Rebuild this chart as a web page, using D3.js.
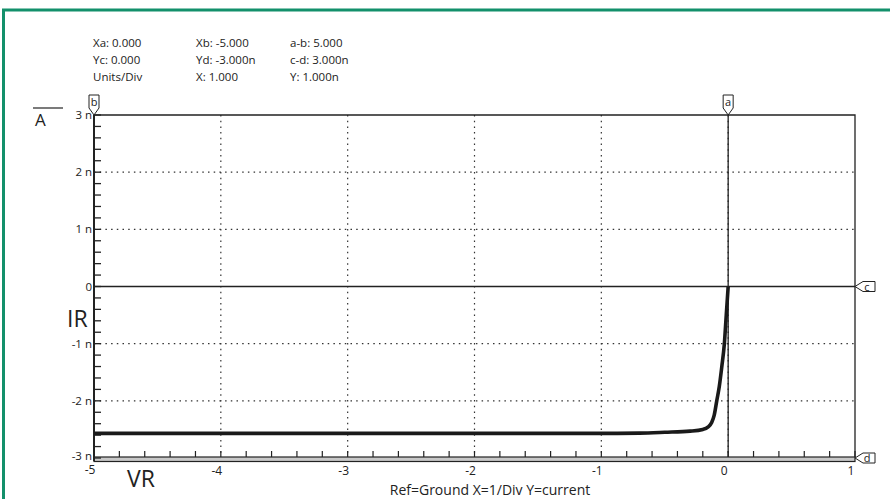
<!DOCTYPE html>
<html>
<head>
<meta charset="utf-8">
<script src="https://cdn.jsdelivr.net/npm/d3@7"></script>
<style>
  body { margin: 0; background: #fff; }
  svg { display: block; font-family: "Open Sans", "Noto Sans", sans-serif; }
</style>
</head>
<body>
<svg id="canvas"></svg>
<script>
var w = 890;
var h = 499;

// readout block at the top
var readCol1 = ['Xa: 0.000', 'Yc: 0.000', 'Units/Div'];
var readCol2 = ['Xb: -5.000', 'Yd: -3.000n', 'X: 1.000'];
var readCol3 = ['a-b: 5.000', 'c-d: 3.000n', 'Y: 1.000n'];

var xTicks = [-5, -4, -3, -2, -1, 0, 1];
var yTicks = [3, 2, 1, 0, -1, -2, -3];
var yTickLabels = ['3 n', '2 n', '1 n', '0', '-1 n', '-2 n', '-3 n'];

// reverse current curve (VR in V, IR in nA)
var vr = [-5, -4, -3, -2, -1, -0.7, -0.5, -0.3, -0.2, -0.16, -0.13, -0.11, -0.09, -0.07, -0.05, -0.03, -0.015, 0];
var ir = [-2.57, -2.57, -2.57, -2.57, -2.57, -2.565, -2.55, -2.53, -2.5, -2.46, -2.38, -2.25, -2.0, -1.75, -1.4, -1.0, -0.5, 0];

// cursors
var cursorA = 0, cursorB = -5, cursorC = 0, cursorD = -3;

var x = d3.scaleLinear().domain([-5, 1]).range([94, 855]);
var y = d3.scaleLinear().domain([-3, 3]).range([458, 115]);

var svg = d3.select('#canvas')
  .attr('width', w)
  .attr('height', h)
  .attr('viewBox', [0, 0, w, h]);

// green frame (only top and left show)
svg.append('path')
  .attr('d', 'M3.5,' + h + ' V10 H' + w)
  .attr('fill', 'none')
  .attr('stroke', '#13906b')
  .attr('stroke-width', 3);

// readouts
[[readCol1, 93], [readCol2, 196], [readCol3, 290]].forEach(function(c){
  svg.append('g').selectAll('text')
    .data(c[0])
    .enter()
    .append('text')
    .attr('x', c[1])
    .attr('y', (d, i) => 47 + i * 17)
    .attr('font-size', 11.5)
    .attr('fill', '#222')
    .text(d => d);
});

// dotted grid
var grid = svg.append('g')
  .attr('stroke', '#333')
  .attr('stroke-width', 1.2)
  .attr('stroke-dasharray', '1.5,4.2');
grid.selectAll('.gx')
  .data([-4, -3, -2, -1, 0])
  .enter()
  .append('line')
  .attr('x1', d => x(d)).attr('x2', d => x(d))
  .attr('y1', y(3)).attr('y2', y(-3));
grid.selectAll('.gy')
  .data([2, 1, -1, -2])
  .enter()
  .append('line')
  .attr('x1', x(-5)).attr('x2', x(1))
  .attr('y1', d => y(d)).attr('y2', d => y(d));

// plot frame top/right
svg.append('path')
  .attr('d', 'M' + x(-5) + ',' + y(3) + ' H' + x(1) + ' V' + y(-3))
  .attr('fill', 'none')
  .attr('stroke', '#222')
  .attr('stroke-width', 1.3);

// cursor lines
svg.append('line')
  .attr('x1', x(cursorA)).attr('x2', x(cursorA))
  .attr('y1', y(3)).attr('y2', y(-3))
  .attr('stroke', '#222').attr('stroke-width', 1.3);
svg.append('line')
  .attr('x1', x(-5)).attr('x2', x(1))
  .attr('y1', y(cursorC)).attr('y2', y(cursorC))
  .attr('stroke', '#222').attr('stroke-width', 1.3);

// bottom axis: double rail with gray fill and upward ticks
svg.append('rect')
  .attr('x', x(-5)).attr('y', y(-3) - 1)
  .attr('width', x(1) - x(-5)).attr('height', 4.5)
  .attr('fill', '#c8c8c8')
  .attr('stroke', '#222')
  .attr('stroke-width', 1.2);
var xMinor = d3.range(0, 31).map(i => -5 + i * 0.2);
svg.append('g').selectAll('line')
  .data(xMinor)
  .enter()
  .append('line')
  .attr('x1', d => x(d)).attr('x2', d => x(d))
  .attr('y1', y(-3) - 1).attr('y2', y(-3) - 7)
  .attr('stroke', '#222').attr('stroke-width', 1.2);
svg.append('g').selectAll('text')
  .data(xTicks)
  .enter()
  .append('text')
  .attr('x', d => x(d) - 4)
  .attr('y', d => d == -5 ? 474 : 475)
  .attr('text-anchor', 'middle')
  .attr('font-size', 12)
  .attr('fill', '#222')
  .text(d => d);

// left axis with inward ticks
svg.append('line')
  .attr('x1', x(-5)).attr('x2', x(-5))
  .attr('y1', y(3)).attr('y2', y(-3) + 3)
  .attr('stroke', '#222').attr('stroke-width', 2);
var yMinor = d3.range(0, 31).map(i => -3 + i * 0.2);
svg.append('g').selectAll('line')
  .data(yMinor)
  .enter()
  .append('line')
  .attr('x1', x(-5)).attr('x2', x(-5) + 7)
  .attr('y1', d => y(d)).attr('y2', d => y(d))
  .attr('stroke', '#222').attr('stroke-width', 1.3);
svg.append('g').selectAll('text')
  .data(yTicks)
  .enter()
  .append('text')
  .attr('x', x(-5) - 2)
  .attr('y', d => d == -3 ? y(d) + 2 : y(d) + 4)
  .attr('text-anchor', 'end')
  .attr('font-size', 11.5)
  .attr('fill', '#222')
  .text((d, i) => yTickLabels[i]);

// curve
var line = d3.line()
  .x((d, i) => x(vr[i]))
  .y((d, i) => y(ir[i]))
  .curve(d3.curveMonotoneX);
svg.append('path')
  .datum(vr)
  .attr('d', line)
  .attr('fill', 'none')
  .attr('stroke', '#1a1a1a')
  .attr('stroke-width', 3.6);

// cursor flags
function topFlag(px, label){
  var g = svg.append('g').attr('transform', 'translate(' + px + ',' + y(3) + ')');
  g.append('path')
    .attr('d', 'M0,0 L-5,-7 V-20 H5 V-7 Z')
    .attr('fill', '#fff').attr('stroke', '#222').attr('stroke-width', 1);
  g.append('text')
    .attr('x', 0).attr('y', -9)
    .attr('text-anchor', 'middle')
    .attr('font-size', 11)
    .attr('fill', '#222')
    .text(label);
}
function sideFlag(py, label){
  var g = svg.append('g').attr('transform', 'translate(' + x(1) + ',' + py + ')');
  g.append('path')
    .attr('d', 'M0,0 L8,-5 H20 V5 H8 Z')
    .attr('fill', '#fff').attr('stroke', '#222').attr('stroke-width', 1);
  g.append('text')
    .attr('x', 12).attr('y', 4)
    .attr('text-anchor', 'middle')
    .attr('font-size', 11)
    .attr('fill', '#222')
    .text(label);
}
topFlag(x(cursorB), 'b');
topFlag(x(cursorA), 'a');
sideFlag(y(cursorC), 'c');
sideFlag(y(cursorD), 'd');

// unit and axis names
svg.append('line')
  .attr('x1', 33).attr('x2', 63)
  .attr('y1', 108).attr('y2', 108)
  .attr('stroke', '#222').attr('stroke-width', 1.2);
svg.append('text')
  .attr('x', 35).attr('y', 126)
  .attr('font-size', 17)
  .attr('fill', '#222')
  .text('A');
svg.append('text')
  .attr('x', 67).attr('y', 327)
  .attr('font-size', 23)
  .attr('fill', '#222')
  .text('IR');
svg.append('text')
  .attr('x', 127).attr('y', 487)
  .attr('font-size', 23)
  .attr('fill', '#222')
  .text('VR');
svg.append('text')
  .attr('x', 490).attr('y', 495)
  .attr('text-anchor', 'middle')
  .attr('font-size', 14)
  .attr('fill', '#222')
  .text('Ref=Ground X=1/Div Y=current');
</script>
</body>
</html>
